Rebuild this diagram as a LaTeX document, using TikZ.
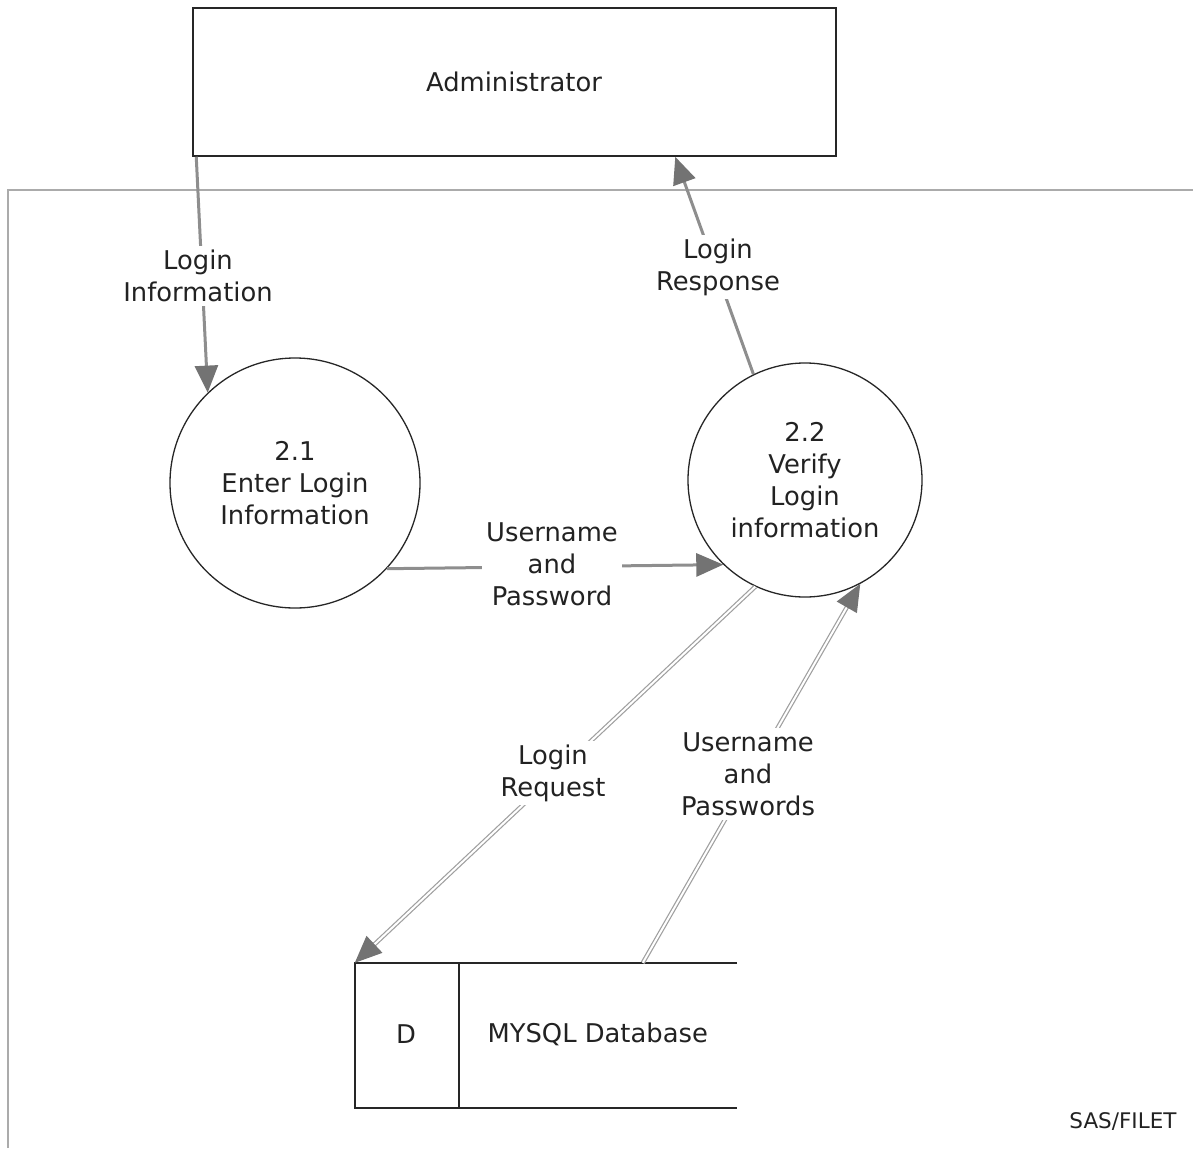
\documentclass[tikz,border=0pt]{standalone}
\usepackage{fontspec}
\setmainfont{DejaVu Sans}
\usetikzlibrary{arrows.meta,calc}
\definecolor{flow}{HTML}{8E8E8E}
\definecolor{head}{HTML}{737373}
\definecolor{txt}{HTML}{222222}
\definecolor{bound}{HTML}{ABABAB}
\begin{document}
\begin{tikzpicture}[x=1pt,y=-1pt,
  every node/.style={text=txt, font=\fontsize{25.8}{32}\selectfont},
  proc/.style={circle, draw=black!85, line width=1.3pt, align=center, inner sep=0pt},
  extbox/.style={rectangle, draw=black!85, line width=1.5pt, inner sep=0pt},
  lbl/.style={fill=white, align=center, inner sep=4pt},
  tip/.style={-{Triangle[length=27pt,width=23pt,fill=head,color=head]}},
  flowline/.style={draw=flow, line width=3pt, tip},
  dflow/.style={draw=flow!85, line width=1.2pt, double=white, double distance=2pt, tip}]
\useasboundingbox (0,0) rectangle (1193,1148);
% boundary
\draw[bound, line width=2pt] (8,1148) -- (8,190) -- (1193,190);
% external entity
\node[extbox, minimum width=643pt, minimum height=148pt] (admin) at (514.5,82) {};
\node (admintxt) at (514,82) {Administrator};
% processes
\node[proc, minimum size=250pt] (c21) at (295,483) {2.1\\Enter Login\\Information};
\node[proc, minimum size=234pt] (c22) at (805,480) {2.2\\Verify\\Login\\information};
% data store
\node[minimum width=382pt, minimum height=145pt, inner sep=0pt] (store) at (546,1035.5) {};
\draw[black!85, line width=1.5pt] (store.north east) -- (store.north west) -- (store.south west) -- (store.south east);
\coordinate (divtop) at ($(store.north west)+(104,0)$);
\coordinate (divbot) at ($(store.south west)+(104,0)$);
\draw[black!85, line width=1.5pt] (divtop) -- (divbot);
\node (dtxt) at (406,1034) {D};
\node[anchor=west] (dbtxt) at (484,1034) {MYSQL Database};
% coordinates on box / store
\coordinate (adminL) at ($(admin.south west)+(4,0)$);
\coordinate (adminR) at ($(admin.south west)+(483,0)$);
\coordinate (storeT) at ($(store.north west)+(288,0)$);
% flows
\draw[flowline] (adminL) -- (c21.134);
\draw[flowline] (c22.116) -- (adminR);
\draw[flowline] (c21.-43) -- (c22.226);
\draw[dflow] (c22.245) -- (store.north west);
\draw[dflow] (storeT) -- (c22.298);
% labels
\node[lbl] (l1) at (198,276) {Login\\Information};
\node[lbl] (l2) at (718,267) {Login\\Response};
\node[lbl] (l3) at (552,564) {Username\\and\\Password};
\node[lbl] (l4) at (553,773) {Login\\Request};
\node[lbl] (l5) at (748,774) {Username\\and\\Passwords};
\node[font=\fontsize{21.5}{26}\selectfont] (sas) at (1123,1122) {SAS/FILET};
\end{tikzpicture}
\end{document}
